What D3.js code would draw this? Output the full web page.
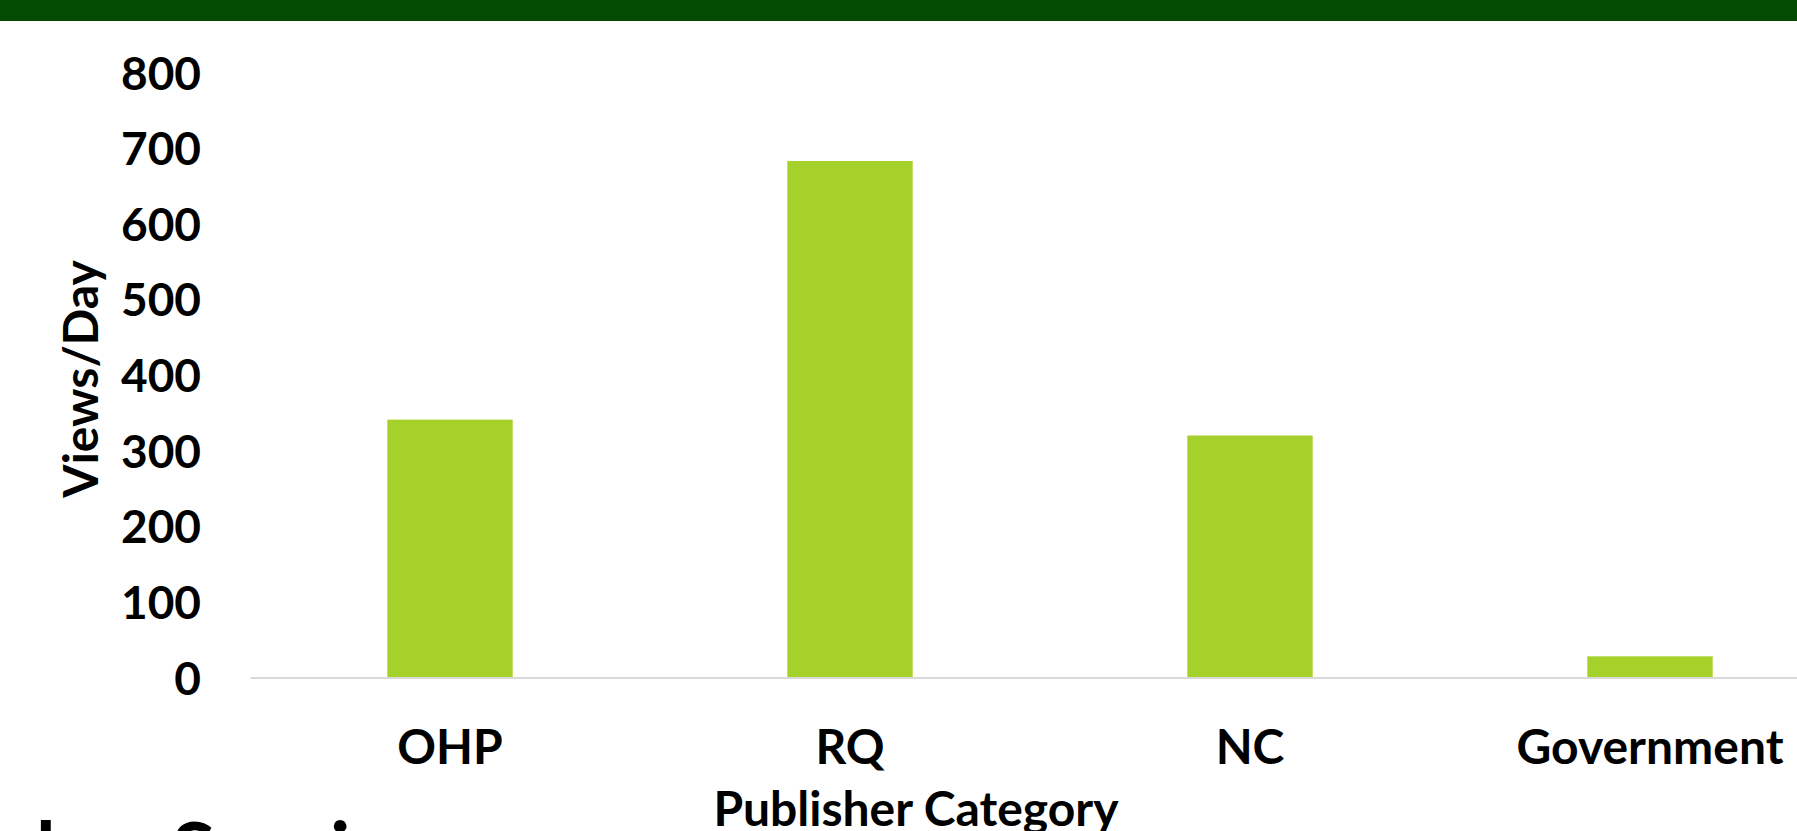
<!DOCTYPE html>
<html>
<head>
<meta charset="utf-8">
<script src="https://cdn.jsdelivr.net/npm/d3@7"></script>
<style>
  html, body { margin: 0; padding: 0; background: #fff; overflow: hidden; }
  svg { display: block; font-family: Lato, "Open Sans", sans-serif; font-weight: 700; }
</style>
</head>
<body>
<svg id="svg1" width="1797" height="831"></svg>
<script>
// chart values
var categories = ["OHP", "RQ", "NC", "Government"];
var viewsPerDay = [341, 683, 320, 28];
var yTicks = [0, 100, 200, 300, 400, 500, 600, 700, 800];

var width = 1797;
var height = 831;

var svg = d3.select("#svg1");

// dark green strip along the top of the slide
svg.append("rect")
    .attr("x", 0)
    .attr("y", 0)
    .attr("width", width)
    .attr("height", 21)
    .attr("fill", "#034a02");

var scaleX = d3.scaleBand()
    .domain(categories)
    .range([250, 1850])
    .paddingInner(0.6865)
    .paddingOuter(0.6865 / 2);

var scaleY = d3.scaleLinear()
    .domain([0, 800])
    .range([677.5, 72.5]);

// bars
svg.selectAll(".bar")
    .data(categories)
    .enter()
    .append("rect")
    .attr("class", "bar")
    .attr("x", function(d) { return scaleX(d); })
    .attr("width", scaleX.bandwidth())
    .attr("y", function(d, i) { return scaleY(viewsPerDay[i]); })
    .attr("height", function(d, i) { return scaleY(0) - scaleY(viewsPerDay[i]); })
    .attr("fill", "#a6d12a");

// y axis, labels only
var yAxis = svg.append("g")
    .attr("class", "axis y")
    .attr("transform", "translate(201,0)")
    .call(d3.axisLeft(scaleY).tickValues(yTicks).tickSize(0).tickPadding(0));

yAxis.attr("font-family", null).attr("font-size", 46);
yAxis.select(".domain").remove();
yAxis.selectAll(".tick text")
    .attr("fill", "#000")
    .attr("dy", "0.36em");

// x axis, the grey baseline is the domain path
var xAxis = svg.append("g")
    .attr("class", "axis x")
    .attr("transform", "translate(0," + scaleY(0) + ")")
    .call(d3.axisBottom(scaleX).tickSize(0).tickSizeOuter(0));

xAxis.attr("font-family", null).attr("font-size", 48);
xAxis.select(".domain")
    .attr("stroke", "#d9d9d9")
    .attr("stroke-width", 2);

xAxis.selectAll(".tick text")
    .attr("fill", "#000")
    .attr("y", 86)
    .attr("dy", 0);

// axis titles
svg.append("text")
    .attr("transform", "translate(98,379) rotate(-90)")
    .attr("text-anchor", "middle")
    .attr("font-size", 48)
    .attr("fill", "#000")
    .text("Views/Day");

svg.append("text")
    .attr("x", 916)
    .attr("y", 826)
    .attr("text-anchor", "middle")
    .attr("font-size", 48)
    .attr("fill", "#000")
    .text("Publisher Category");

// slide title cut off at the bottom edge
var title = svg.append("text")
    .attr("y", 880)
    .attr("font-size", 80)
    .attr("fill", "#000")
    .text("Publisher Services");

var offset = title.node().getSubStringLength(0, 6);
title.attr("x", 36 - offset);
</script>
</body>
</html>
